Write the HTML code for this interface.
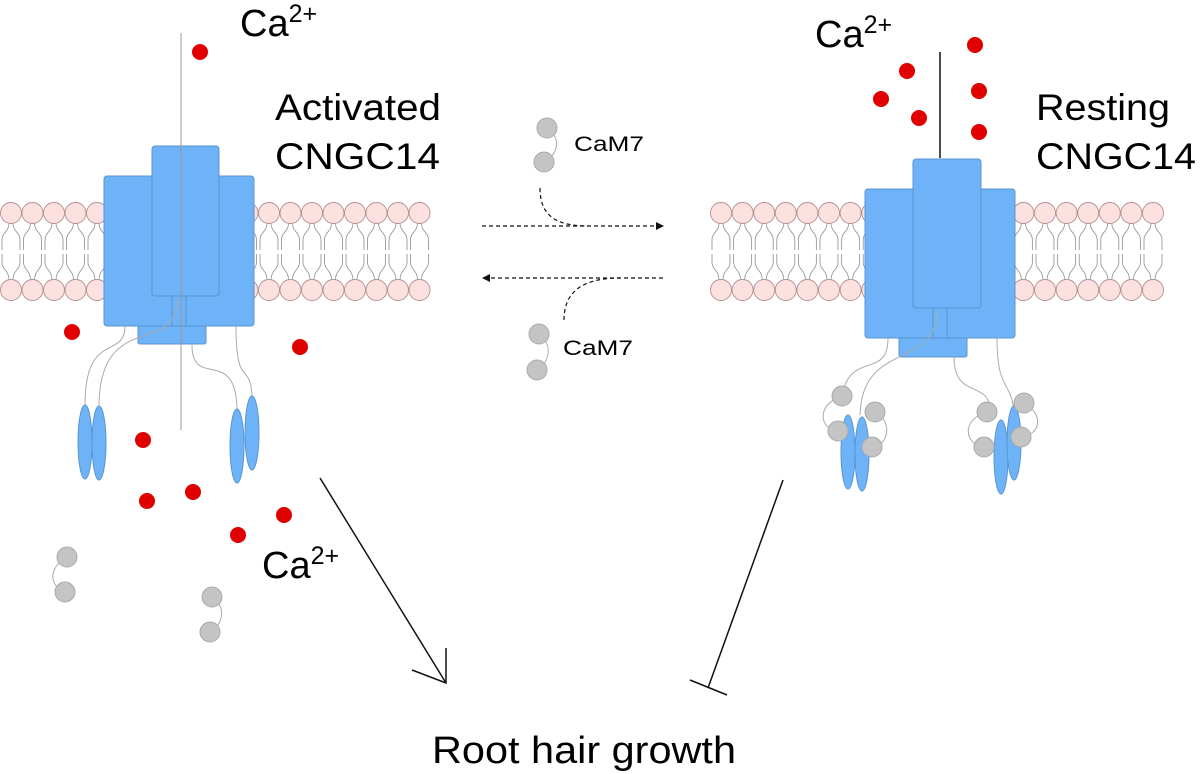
<!DOCTYPE html>
<html><head><meta charset="utf-8"><style>
html,body{margin:0;padding:0;background:#fff;}
svg{display:block;font-family:"Liberation Sans",sans-serif;}
</style></head><body>
<svg id="s" width="1200" height="774" viewBox="0 0 1200 774" xmlns="http://www.w3.org/2000/svg">
<g id="mem"></g>
<!-- left channel -->
<g fill="#6eb3f7" stroke="#5a95d0" stroke-width="1">
<rect x="138" y="316" width="68" height="28" rx="2"/>
<rect x="104" y="176" width="150" height="150" rx="3"/>
<rect x="152" y="146" width="67" height="150" rx="3"/>
</g>
<path d="M172 296 V326 M186 296 V326" stroke="#5a95d0" fill="none"/>
<g fill="none" stroke="#aaa" stroke-width="1">
<path d="M125 326 C125 360 85 330 85 405"/>
<path d="M177 300 C177 355 100 310 99 405"/>
<path d="M192 345 C192 390 236 345 237 410"/>
<path d="M236 326 C236 390 250 360 252 396"/>
<path d="M181 33 V430" stroke="#999"/>
</g>
<g fill="#6eb3f7" stroke="#5a95d0">
<ellipse cx="85" cy="442" rx="7" ry="37"/><ellipse cx="99" cy="443" rx="7" ry="37"/>
<ellipse cx="237" cy="446" rx="7" ry="37"/><ellipse cx="252" cy="433" rx="7" ry="37"/>
</g>
<!-- right channel -->
<g fill="#6eb3f7" stroke="#5a95d0" stroke-width="1">
<rect x="899" y="328" width="68" height="29" rx="2"/>
<rect x="865" y="189" width="150" height="149" rx="3"/>
<rect x="913" y="159" width="68" height="149" rx="3"/>
</g>
<path d="M933 308 V338 M947 308 V338" stroke="#5a95d0" fill="none"/>
<path d="M940 52 V158" stroke="#111" stroke-width="1.5"/>
<g fill="none" stroke="#aaa">
<path d="M888 338 C888 380 850 350 842 396"/>
<path d="M937 310 C937 370 862 340 860 415"/>
<path d="M954 357 C954 400 990 380 990 410"/>
<path d="M997 338 C997 390 1010 380 1014 410"/>
<path d="M842 396 C815 405 820 430 838 431 M875 412 C892 420 890 445 872 447 M987 412 C960 420 965 445 984 447 M1024 403 C1045 415 1040 435 1021 437"/>
</g>
<g fill="#6eb3f7" stroke="#5a95d0">
<ellipse cx="848" cy="452" rx="7" ry="37"/><ellipse cx="862" cy="454" rx="7" ry="37"/>
<ellipse cx="1001" cy="457" rx="7" ry="37"/><ellipse cx="1014" cy="443" rx="7" ry="37"/>
</g>
<g fill="#c4c4c4" stroke="#aaa">
<circle cx="842" cy="396" r="10"/><circle cx="838" cy="431" r="10"/><circle cx="875" cy="412" r="10"/><circle cx="872" cy="447" r="10"/>
<circle cx="987" cy="412" r="10"/><circle cx="984" cy="447" r="10"/><circle cx="1024" cy="403" r="10"/><circle cx="1021" cy="437" r="10"/>
</g>
<!-- middle -->
<g fill="none" stroke="#aaa">
<path d="M547 128 C562 138 558 155 544 162"/>
<path d="M539 334 C553 345 550 362 537 370"/>
<path d="M67 557 C45 570 52 588 65 592"/>
<path d="M212 597 C226 605 224 625 210 632"/>
</g>
<g fill="#c4c4c4" stroke="#aaa">
<circle cx="547" cy="128" r="10"/><circle cx="544" cy="162" r="10"/>
<circle cx="539" cy="334" r="10"/><circle cx="537" cy="370" r="10"/>
<circle cx="67" cy="557" r="10"/><circle cx="65" cy="592" r="10"/>
<circle cx="212" cy="597" r="10"/><circle cx="210" cy="632" r="10"/>
</g>
<g fill="none" stroke="#111" stroke-width="1.2" stroke-dasharray="4,3">
<path d="M482 226 H656"/>
<path d="M540 188 C540 215 555 226 588 226"/>
<path d="M663 278 H490"/>
<path d="M564 320 C564 290 585 278 620 278"/>
</g>
<path d="M656 222 L664 226 L656 230 Z" fill="#111"/>
<path d="M490 274 L482 278 L490 282 Z" fill="#111"/>
<text x="574" y="151" font-size="21" textLength="70" lengthAdjust="spacingAndGlyphs">CaM7</text>
<text x="563" y="355" font-size="21" textLength="70" lengthAdjust="spacingAndGlyphs">CaM7</text>
<!-- red dots -->
<g fill="#e00000">
<circle cx="200" cy="52" r="8"/><circle cx="72" cy="332" r="8"/><circle cx="300" cy="347" r="8"/>
<circle cx="143" cy="440" r="8"/><circle cx="193" cy="492" r="8"/><circle cx="147" cy="501" r="8"/>
<circle cx="284" cy="515" r="8"/><circle cx="238" cy="535" r="8"/>
<circle cx="975" cy="45" r="8"/><circle cx="907" cy="71" r="8"/><circle cx="881" cy="99" r="8"/>
<circle cx="919" cy="118" r="8"/><circle cx="979" cy="91" r="8"/><circle cx="979" cy="132" r="8"/>
</g>
<!-- arrows -->
<g stroke="#111" stroke-width="1.5" fill="none">
<path d="M320 478 L446 683"/>
<path d="M412 670 L446 683 L446 648"/>
<path d="M783 480 L708 688"/>
<path d="M690 680 L727 695"/>
</g>
<!-- text -->
<g fill="#000">
<text x="240" y="36" font-size="38">Ca<tspan font-size="25" dy="-14">2+</tspan></text>
<text x="815" y="47" font-size="38">Ca<tspan font-size="25" dy="-14">2+</tspan></text>
<text x="262" y="578" font-size="38">Ca<tspan font-size="25" dy="-14">2+</tspan></text>
<text x="275" y="120" font-size="37" textLength="166" lengthAdjust="spacingAndGlyphs">Activated</text>
<text x="275" y="169" font-size="37" textLength="165" lengthAdjust="spacingAndGlyphs">CNGC14</text>
<text x="1036" y="120" font-size="37" textLength="134" lengthAdjust="spacingAndGlyphs">Resting</text>
<text x="1036" y="169" font-size="37" textLength="160" lengthAdjust="spacingAndGlyphs">CNGC14</text>
<text x="432" y="763" font-size="38" textLength="304" lengthAdjust="spacingAndGlyphs">Root hair growth</text>
</g>
</svg>
<script>
(function(){
var g=document.getElementById('mem'),h='';
function lip(x){
 var t='';
 t+='<path d="M'+(x-2)+' 223 C'+(x-2)+' 232 '+(x-9)+' 232 '+(x-9)+' 240 V250 M'+(x+2)+' 223 C'+(x+2)+' 232 '+(x+9)+' 232 '+(x+9)+' 240 V250 M'+(x-9)+' 254 V262 C'+(x-9)+' 270 '+(x-2)+' 270 '+(x-2)+' 280 M'+(x+9)+' 254 V262 C'+(x+9)+' 270 '+(x+2)+' 270 '+(x+2)+' 280" fill="none" stroke="#999" stroke-width="0.9"/>';
 t+='<circle cx="'+x+'" cy="213" r="10.5" fill="#fde0e0" stroke="#b09090" stroke-width="0.9"/>';
 t+='<circle cx="'+x+'" cy="290" r="10.5" fill="#fde0e0" stroke="#b09090" stroke-width="0.9"/>';
 return t;}
for(var x=11;x<432;x+=21.5)h+=lip(x);
for(var x=721;x<1165;x+=21.6)h+=lip(x);
g.innerHTML=h;
})();
</script>
</body></html>
